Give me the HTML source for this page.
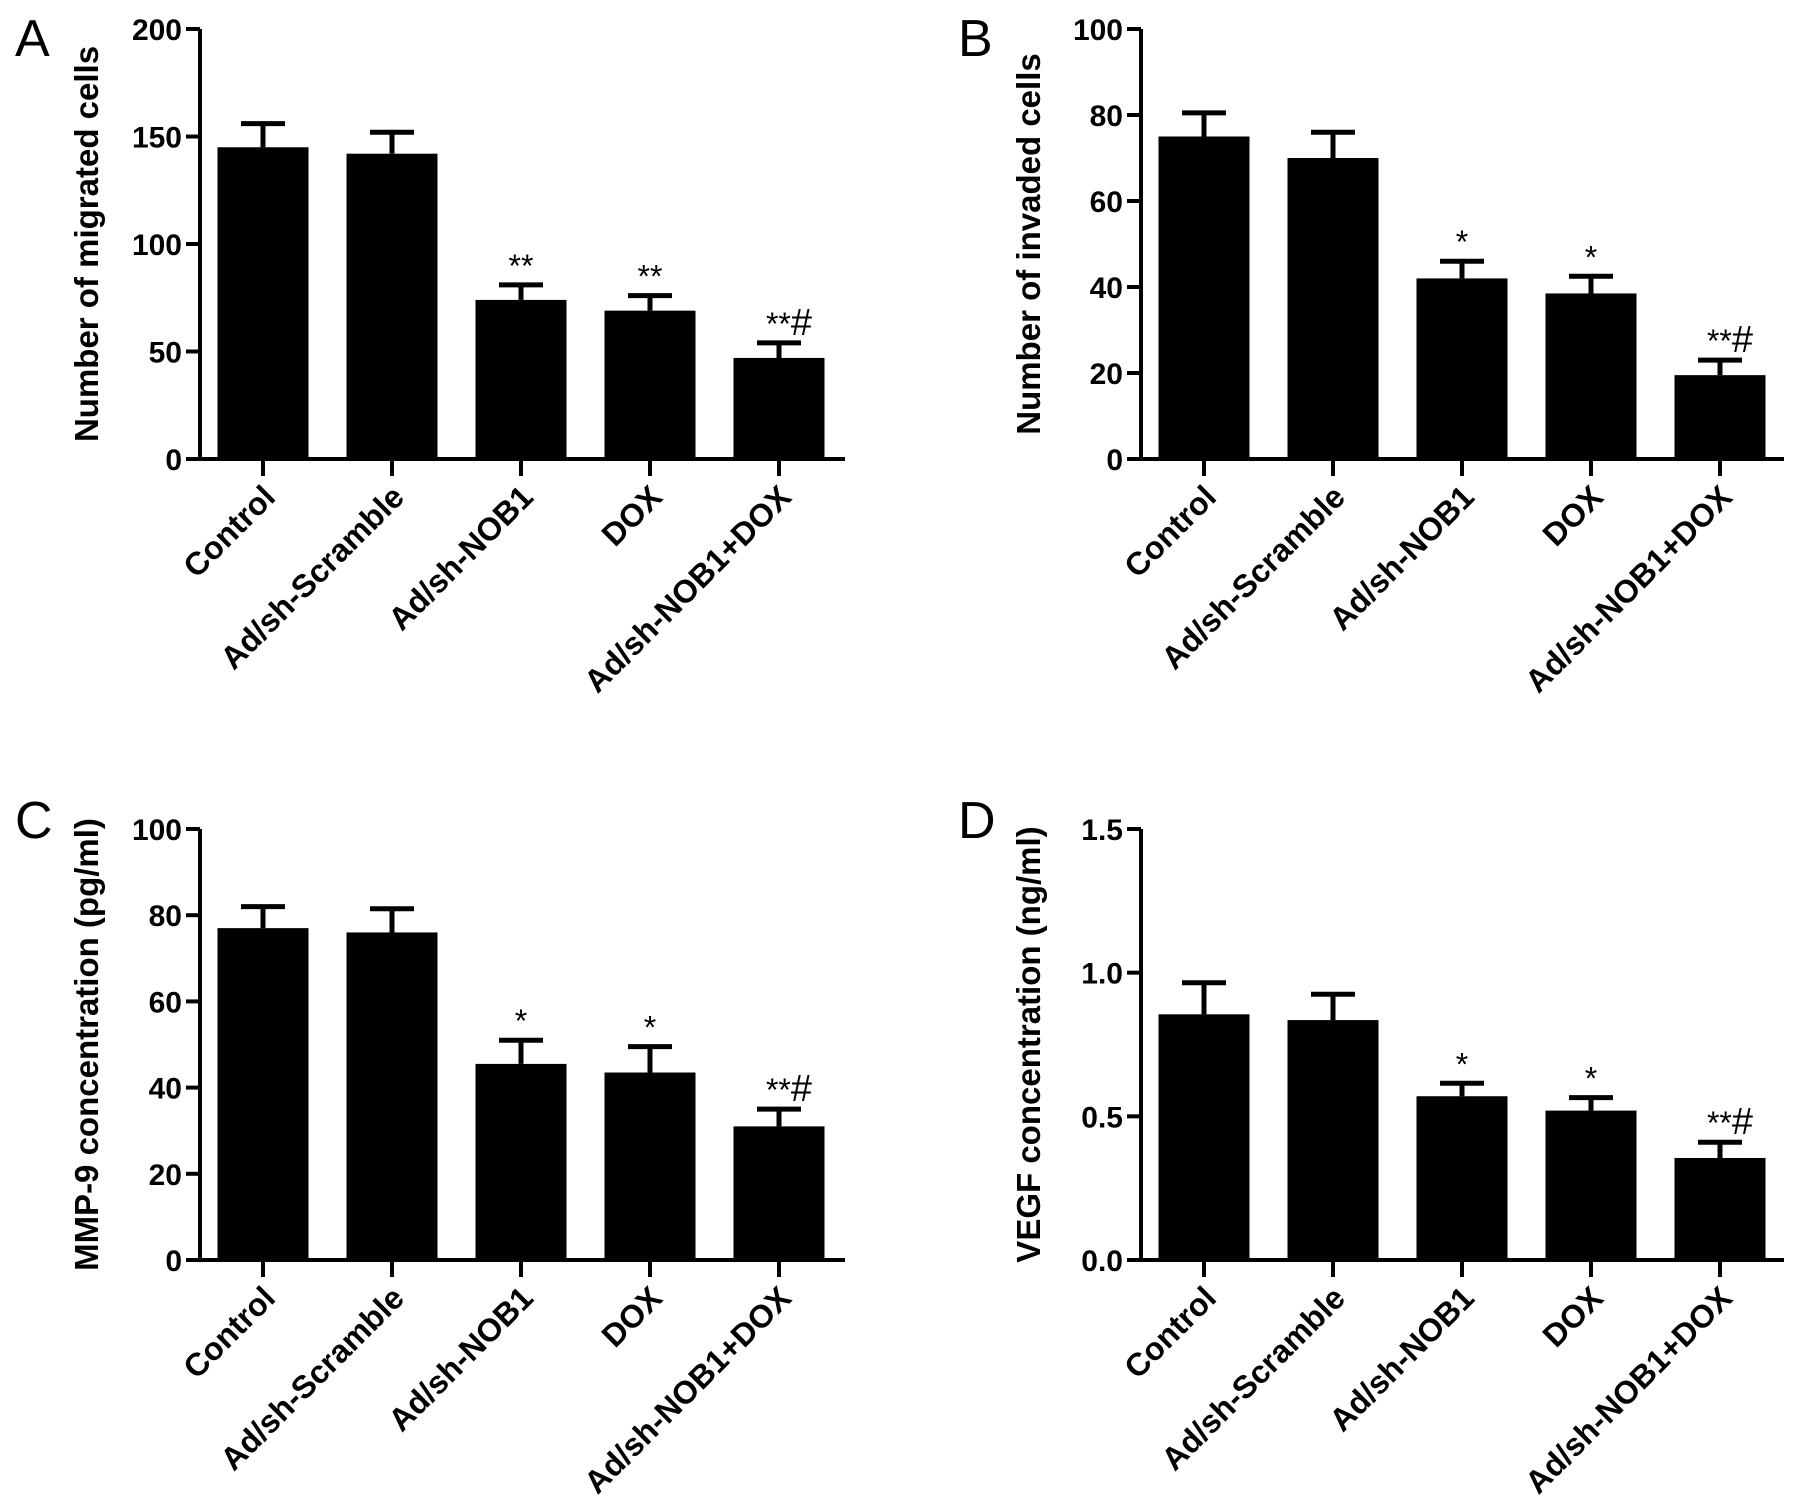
<!DOCTYPE html>
<html><head><meta charset="utf-8"><style>
html,body{margin:0;padding:0;background:#fff}
svg{display:block;font-family:"Liberation Sans",Arial,sans-serif}
</style></head><body>
<svg id="fig" width="1795" height="1507" viewBox="0 0 1795 1507"></svg>
<script>
const categories = ["Control","Ad/sh-Scramble","Ad/sh-NOB1","DOX","Ad/sh-NOB1+DOX"];
const valuesA = [145, 142, 74, 69, 47];
const errorsA = [11, 10, 7, 7, 7];
const signifA = ["", "", "**", "**", "**#"];
const ticksA = [0, 50, 100, 150, 200];
const valuesB = [75, 70, 42, 38.5, 19.5];
const errorsB = [5.5, 6, 4, 4, 3.5];
const signifB = ["", "", "*", "*", "**#"];
const ticksB = [0, 20, 40, 60, 80, 100];
const valuesC = [77, 76, 45.5, 43.5, 31];
const errorsC = [5, 5.5, 5.5, 6, 4];
const signifC = ["", "", "*", "*", "**#"];
const ticksC = [0, 20, 40, 60, 80, 100];
const valuesD = [0.855, 0.835, 0.57, 0.52, 0.355];
const errorsD = [0.11, 0.09, 0.045, 0.045, 0.055];
const signifD = ["", "", "*", "*", "**#"];
const ticksD = [0, 0.5, 1.0, 1.5];
const tickLabelsD = ["0.0", "0.5", "1.0", "1.5"];

const NS = "http://www.w3.org/2000/svg";
const svg = document.getElementById("fig");
function mk(tag, attrs, parent) {
  const e = document.createElementNS(NS, tag);
  for (const k in attrs) e.setAttribute(k, attrs[k]);
  (parent || svg).appendChild(e);
  return e;
}

function panel(cfg) {
  const g = mk("g", {});
  
  
  const x0 = cfg.x0, y0 = cfg.y0, yTop = cfg.yTop, xEnd = cfg.xEnd;
  const ymax = cfg.ticks[cfg.ticks.length - 1];
  const yS = v => y0 - (v / ymax) * (y0 - yTop);
  const step = 129, first = x0 + 63, bw = 91;
  const xS = i => first + i * step;

  const lt = mk("text", {x: cfg.lx, y: cfg.ly, "font-size": 52, fill: "#000"}, g);
  lt.textContent = cfg.letter;
  
  

  cfg.values.forEach((v, i) => {
    const cx = xS(i);
    const r = mk("rect", {x: cx - bw / 2, y: yS(v), width: bw, height: y0 - yS(v), fill: "#000"}, g);
    
    
    const top = yS(v + cfg.errors[i]);
    const eb = mk("path", {d: `M${cx} ${yS(v)}V${top}M${cx - 22} ${top}H${cx + 22}`, stroke: "#000", "stroke-width": 5, fill: "none"}, g);
    
    
    if (cfg.sig[i]) {
      const s = cfg.sig[i];
      const t = mk("text", {x: cx + (s.includes("#") ? 10 : 0), y: top - 8, "text-anchor": "middle", "font-size": 32, fill: "#000"}, g);
      
      
      const ts = mk("tspan", {}, t); ts.textContent = s.replace("#", "");
      if (s.includes("#")) { const th = mk("tspan", {"font-size": 38}, t); th.textContent = "#"; }
    }
  });

  const ax = mk("path", {d: `M${x0} ${yTop}V${y0}H${xEnd}`, stroke: "#000", "stroke-width": 4, fill: "none"}, g);
  
  
  cfg.ticks.forEach((tv, k) => {
    const y = yS(tv);
    mk("line", {x1: x0 - 14, x2: x0, y1: y, y2: y, stroke: "#000", "stroke-width": 4}, g);
    const t = mk("text", {x: x0 - 18, y: y + 11, "text-anchor": "end", "font-size": 30, "font-weight": "bold", fill: "#000"}, g);
    t.textContent = cfg.tickLabels ? cfg.tickLabels[k] : tv;
    
    
  });
  categories.forEach((c, i) => {
    const cx = xS(i);
    mk("line", {x1: cx, x2: cx, y1: y0, y2: y0 + 17, stroke: "#000", "stroke-width": 4}, g);
    const t = mk("text", {x: cx + 14, y: y0 + 40, "text-anchor": "end", "font-size": 32, "font-weight": "bold", fill: "#000", transform: `rotate(-45 ${cx + 14} ${y0 + 40})`}, g);
    t.textContent = c;
    
    
  });
  const yc = (y0 + yTop) / 2;
  const tt = mk("text", {x: cfg.tx, y: yc, "text-anchor": "middle", "font-size": 33, "font-weight": "bold", fill: "#000", transform: `rotate(-90 ${cfg.tx} ${yc})`}, g);
  tt.textContent = cfg.title;
  
  
}

panel({letter: "A", lx: 15, ly: 56, x0: 200, y0: 459, yTop: 29, xEnd: 845, ticks: ticksA, values: valuesA, errors: errorsA, sig: signifA, tx: 98, title: "Number of  migrated cells"});
panel({letter: "B", lx: 958, ly: 56, x0: 1141, y0: 459, yTop: 29, xEnd: 1784, ticks: ticksB, values: valuesB, errors: errorsB, sig: signifB, tx: 1040, title: "Number of invaded cells"});
panel({letter: "C", lx: 15, ly: 838, x0: 200, y0: 1260, yTop: 829, xEnd: 845, ticks: ticksC, values: valuesC, errors: errorsC, sig: signifC, tx: 98, title: "MMP-9 concentration (pg/ml)"});
panel({letter: "D", lx: 958, ly: 838, x0: 1141, y0: 1260, yTop: 829, xEnd: 1784, ticks: ticksD, tickLabels: tickLabelsD, values: valuesD, errors: errorsD, sig: signifD, tx: 1040, title: "VEGF concentration  (ng/ml)"});
</script>
</body></html>
